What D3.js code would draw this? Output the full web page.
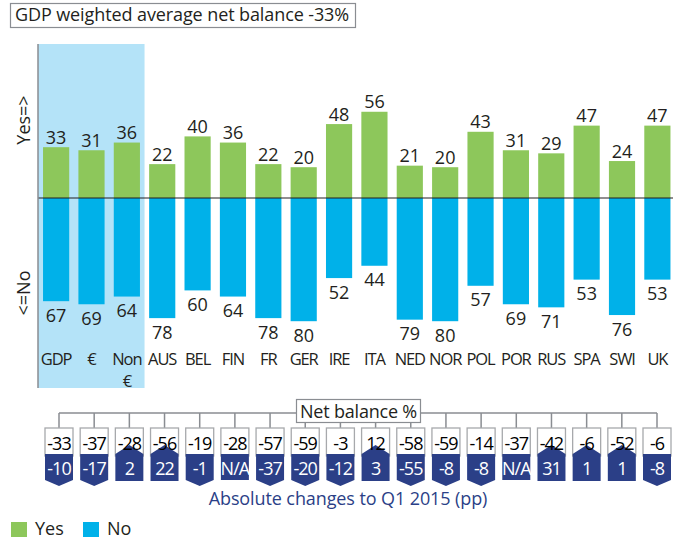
<!DOCTYPE html>
<html>
<head>
<meta charset="utf-8">
<script src="https://cdn.jsdelivr.net/npm/d3@7"></script>
<style>
  body { margin: 0; background: #fff; }
  svg text { font-family: "Open Sans", sans-serif; }
</style>
</head>
<body>
<div id="chart"></div>
<script>
// chart data
let categories = ["GDP", "€", "Non €", "AUS", "BEL", "FIN", "FR", "GER", "IRE", "ITA", "NED", "NOR", "POL", "POR", "RUS", "SPA", "SWI", "UK"];
let yesValues = [33, 31, 36, 22, 40, 36, 22, 20, 48, 56, 21, 20, 43, 31, 29, 47, 24, 47];
let noValues = [67, 69, 64, 78, 60, 64, 78, 80, 52, 44, 79, 80, 57, 69, 71, 53, 76, 53];
let netBalance = [-33, -37, -28, -56, -19, -28, -57, -59, -3, 12, -58, -59, -14, -37, -42, -6, -52, -6];
let changes = [-10, -17, 2, 22, -1, null, -37, -20, -12, 3, -55, -8, -8, null, 31, 1, 1, -8];

let width = 678;
let height = 541;

let green = "#8dc75b";
let blue = "#00b1e9";
let navy = "#2b3f87";
let grey = "#8a8d92";
let textColor = "#231f20";
let fontSize = 18;

let svg = d3.select("#chart").append("svg")
  .attr("width", width)
  .attr("height", height);

let x = d3.scaleBand()
  .domain(categories)
  .range([39.5, 674])
  .paddingInner(0.26)
  .paddingOuter(0.1);

let y = d3.scaleLinear()
  .domain([-100, 100])
  .range([352, 44]);

let axisX = 38;
let plotBottom = 388;

// title box
svg.append("rect")
  .attr("x", 10.5).attr("y", 3.5)
  .attr("width", 345).attr("height", 24)
  .attr("fill", "#fff").attr("stroke", grey).attr("stroke-width", 1.2);
svg.append("text")
  .attr("x", 15).attr("y", 21)
  .attr("font-size", fontSize).attr("fill", textColor)
  .attr("letter-spacing", -0.1)
  .text("GDP weighted average net balance -33%");

// shaded aggregates
let bandEnd = x("AUS") - x.step() * x.paddingInner() / 2;
svg.append("rect")
  .attr("x", axisX).attr("y", 44)
  .attr("width", bandEnd - axisX).attr("height", plotBottom - 44)
  .attr("fill", "#b4e3f8");

// yes bars
svg.selectAll("rect.yes")
  .data(categories)
  .enter()
  .append("rect")
  .attr("class", "yes")
  .attr("x", d => x(d))
  .attr("width", x.bandwidth())
  .attr("y", (d, i) => y(yesValues[i]))
  .attr("height", (d, i) => y(0) - y(yesValues[i]))
  .attr("fill", green);

// no bars
svg.selectAll("rect.no")
  .data(categories)
  .enter()
  .append("rect")
  .attr("class", "no")
  .attr("x", d => x(d))
  .attr("width", x.bandwidth())
  .attr("y", y(0))
  .attr("height", (d, i) => y(-noValues[i]) - y(0))
  .attr("fill", blue);

// value labels
svg.selectAll("text.yesLabel")
  .data(categories)
  .enter()
  .append("text")
  .attr("x", d => x(d) + x.bandwidth() / 2)
  .attr("y", (d, i) => y(yesValues[i]) - 3.5)
  .attr("text-anchor", "middle")
  .attr("font-size", fontSize)
  .attr("fill", textColor)
  .text((d, i) => yesValues[i]);

svg.selectAll("text.noLabel")
  .data(categories)
  .enter()
  .append("text")
  .attr("x", d => x(d) + x.bandwidth() / 2)
  .attr("y", (d, i) => y(-noValues[i]) + 20.5)
  .attr("text-anchor", "middle")
  .attr("font-size", fontSize)
  .attr("fill", textColor)
  .text((d, i) => noValues[i]);

// zero line
svg.append("line")
  .attr("x1", axisX).attr("x2", 673)
  .attr("y1", y(0)).attr("y2", y(0))
  .attr("stroke", textColor).attr("stroke-width", 1.2);

// axis line
svg.append("line")
  .attr("x1", axisX).attr("x2", axisX)
  .attr("y1", 44).attr("y2", plotBottom)
  .attr("stroke", grey).attr("stroke-width", 1.5);

// axis labels
svg.append("text")
  .attr("transform", "translate(30, 120) rotate(-90)")
  .attr("text-anchor", "middle")
  .attr("font-size", fontSize).attr("fill", textColor)
  .text("Yes=>");
svg.append("text")
  .attr("transform", "translate(30, 293) rotate(-90)")
  .attr("text-anchor", "middle")
  .attr("font-size", fontSize).attr("fill", textColor)
  .text("<=No");

// category labels, "Non €" split on two lines
let catLabels = svg.selectAll("text.cat")
  .data(categories)
  .enter()
  .append("text")
  .attr("text-anchor", "middle")
  .attr("font-size", 16.5)
  .attr("letter-spacing", -1.1)
  .attr("fill", textColor);
catLabels.each(function (d) {
  let parts = d.split(" ");
  d3.select(this).selectAll("tspan")
    .data(parts)
    .enter()
    .append("tspan")
    .attr("x", x(d) + x.bandwidth() / 2)
    .attr("y", (p, j) => 365 + j * 22)
    .text(p => p);
});

// net balance section
let bx = d3.scalePoint()
  .domain(categories)
  .range([59, 657]);
let bracketY = 413;
let boxTop = 428;
let boxMid = 454;
let boxBottom = 480;
let half = 14;

svg.append("line")
  .attr("x1", bx(categories[0])).attr("x2", bx(categories[categories.length - 1]))
  .attr("y1", bracketY).attr("y2", bracketY)
  .attr("stroke", grey).attr("stroke-width", 1.5);

svg.selectAll("line.tick")
  .data(categories)
  .enter()
  .append("line")
  .attr("x1", d => bx(d)).attr("x2", d => bx(d))
  .attr("y1", bracketY).attr("y2", boxTop)
  .attr("stroke", grey).attr("stroke-width", 1.5);

svg.append("rect")
  .attr("x", 296.5).attr("y", 399.5)
  .attr("width", 124).attr("height", 23)
  .attr("fill", "#fff").attr("stroke", grey).attr("stroke-width", 1.2);
svg.append("text")
  .attr("x", 358.5).attr("y", 418)
  .attr("text-anchor", "middle")
  .attr("font-size", fontSize).attr("fill", textColor)
  .attr("letter-spacing", -0.2)
  .text("Net balance %");

// white upper boxes
svg.selectAll("rect.netBox")
  .data(categories)
  .enter()
  .append("rect")
  .attr("x", d => bx(d) - half)
  .attr("y", boxTop)
  .attr("width", half * 2)
  .attr("height", boxMid - boxTop + 2)
  .attr("fill", "#fff")
  .attr("stroke", "#a7a9ac")
  .attr("stroke-width", 1.3);

// navy chevrons for the change
function chevron(d, i) {
  let c = bx(d);
  let v = changes[i];
  let pts;
  if (v === null) {
    pts = [[c - half, boxMid], [c + half, boxMid], [c + half, boxBottom], [c - half, boxBottom]];
  } else if (v > 0) {
    pts = [[c - half, boxMid], [c, boxMid - 9], [c + half, boxMid], [c + half, boxBottom + 1], [c - half, boxBottom + 1]];
  } else {
    pts = [[c - half, boxMid], [c + half, boxMid], [c + half, boxBottom], [c, boxBottom + 6], [c - half, boxBottom]];
  }
  return "M" + pts.map(p => p.join(",")).join("L") + "Z";
}

svg.selectAll("path.change")
  .data(categories)
  .enter()
  .append("path")
  .attr("d", chevron)
  .attr("fill", navy);

svg.selectAll("text.net")
  .data(categories)
  .enter()
  .append("text")
  .attr("x", d => bx(d))
  .attr("y", 450)
  .attr("text-anchor", "middle")
  .attr("font-size", fontSize)
  .attr("letter-spacing", -1)
  .attr("fill", "#000")
  .text((d, i) => netBalance[i]);

svg.selectAll("text.chg")
  .data(categories)
  .enter()
  .append("text")
  .attr("x", d => bx(d))
  .attr("y", 475)
  .attr("text-anchor", "middle")
  .attr("font-size", fontSize)
  .attr("letter-spacing", -1)
  .attr("fill", "#fff")
  .text((d, i) => changes[i] === null ? "N/A" : changes[i]);

svg.append("text")
  .attr("x", 348).attr("y", 505)
  .attr("text-anchor", "middle")
  .attr("font-size", fontSize).attr("fill", navy)
  .attr("letter-spacing", -0.1)
  .text("Absolute changes to Q1 2015 (pp)");

// legend
let legendItems = ["Yes", "No"];
let legendColors = [green, blue];
let legendX = [11, 83];
svg.selectAll("rect.legend")
  .data(legendItems)
  .enter()
  .append("rect")
  .attr("x", (d, i) => legendX[i])
  .attr("y", 522)
  .attr("width", 16).attr("height", 15)
  .attr("fill", (d, i) => legendColors[i]);
svg.selectAll("text.legend")
  .data(legendItems)
  .enter()
  .append("text")
  .attr("x", (d, i) => legendX[i] + 24)
  .attr("y", 535)
  .attr("font-size", fontSize).attr("fill", textColor)
  .text(d => d);
</script>
</body>
</html>
